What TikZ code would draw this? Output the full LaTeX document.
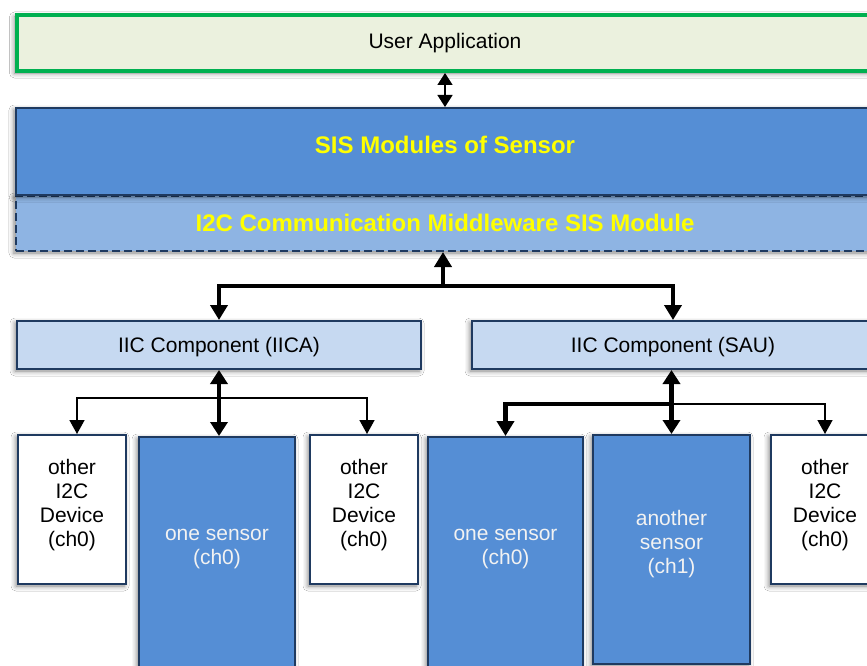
\documentclass[tikz,border=0pt]{standalone}
\usepackage{fontspec}
\setmainfont{Liberation Sans}
\usetikzlibrary{arrows.meta,shadows.blur}
\definecolor{uafill}{HTML}{EBF1DE}
\definecolor{uagreen}{HTML}{00B050}
\definecolor{sisblue}{HTML}{558ED5}
\definecolor{midblue}{HTML}{8EB4E3}
\definecolor{iicfill}{HTML}{C6D9F1}
\definecolor{navy}{HTML}{1F3A60}
\definecolor{sensortext}{HTML}{F2F2F2}
\definecolor{ttlyellow}{HTML}{FFFF00}
\begin{document}
\begin{tikzpicture}[x=1pt,y=-1pt,
 box/.style={rectangle, inner sep=0pt, line width=2pt, draw=navy,
   blur shadow={shadow xshift=-2pt,shadow yshift=-2pt,shadow blur radius=5pt,shadow opacity=50}},
 txt/.style={inner sep=0pt, align=center, font=\fontsize{21}{24}\selectfont},
 ttl/.style={inner sep=0pt, text=ttlyellow, font=\fontsize{24}{28}\selectfont\bfseries},
 thn/.style={line width=1.5pt, -{Triangle[width=15pt,length=14pt]}},
 thnboth/.style={line width=1.5pt, {Triangle[width=15pt,length=12pt]}-{Triangle[width=15pt,length=12pt]}},
 thk/.style={line width=4.5pt, -{Triangle[width=17pt,length=15pt]}},
 thkboth/.style={line width=4.5pt, {Triangle[width=17pt,length=14pt]}-{Triangle[width=17pt,length=14pt]}},
]
\useasboundingbox (0,0) rectangle (867,666);
\fill[white] (0,0) rectangle (867,666);

% top layers
\node[box, fill=uafill, draw=uagreen, line width=4pt, minimum width=857pt, minimum height=56pt] (ua) at (445,43) {};
\node[txt] (uat) at (445,43) {User Application};

\node[box, fill=midblue, dash pattern=on 8pt off 4pt, minimum width=858pt, minimum height=55pt] (mid) at (445,223.5) {};
\node[box, fill=sisblue, minimum width=858pt, minimum height=87pt] (sis) at (445,151.5) {};
\node[ttl] (sist) at (445,145) {SIS Modules of Sensor};
\node[ttl] (midt) at (445,223) {I2C Communication Middleware SIS Module};

% IIC components
\node[box, fill=iicfill, minimum width=404pt, minimum height=48pt, txt, text height=19.5pt, text depth=4.5pt] (iica) at (219,345) {IIC Component (IICA)};
\node[box, fill=iicfill, minimum width=402pt, minimum height=48pt, txt, text height=19.5pt, text depth=4.5pt] (sau) at (673,345) {IIC Component (SAU)};

% devices
\node[box, fill=white, minimum width=108pt, minimum height=149pt] (o1) at (72,509.5) {};
\node[txt] (o1t) at (72,505) {other\\I2C\\Device\\(ch0)};
\node[box, fill=sisblue, minimum width=156pt, minimum height=260pt] (s1) at (217,567) {};
\node[txt, text=sensortext] (s1t) at (217,549) {one sensor\\(ch0)};
\node[box, fill=white, minimum width=108pt, minimum height=149pt] (o2) at (364,509.5) {};
\node[txt] (o2t) at (364,505) {other\\I2C\\Device\\(ch0)};
\node[box, fill=sisblue, minimum width=155pt, minimum height=260pt] (s2) at (505.5,567) {};
\node[txt, text=sensortext] (s2t) at (505.5,549) {one sensor\\(ch0)};
\node[box, fill=sisblue, minimum width=157pt, minimum height=229pt] (s3) at (671.5,549.5) {};
\node[txt, text=sensortext] (s3t) at (671.5,544.5) {another\\sensor\\(ch1)};
\node[box, fill=white, minimum width=108pt, minimum height=149pt] (o3) at (825,509.5) {};
\node[txt] (o3t) at (825,505) {other\\I2C\\Device\\(ch0)};

% connectors
\draw[thnboth] (ua.south) -- (sis.north);
\coordinate (bus) at (443,286);
\draw[thk] (bus) -- (bus |- mid.south);
\draw[thk] (bus) -| (iica.north);
\draw[thk] (bus) -| (sau.north);

\coordinate (j1) at (219,398);
\draw[thn] (j1) -| ([xshift=5pt]o1.north);
\draw[thn] (j1) -| ([xshift=3pt]o2.north);
\draw[thkboth] (iica.south) -- (iica.south |- s1.north);

\coordinate (j2) at (671,404);
\draw[thn] (j2) -| (o3.north);
\draw[thk] (j2) -| (s2.north);
\draw[thkboth] (s3.north |- sau.south) -- (s3.north);
\end{tikzpicture}
\end{document}
